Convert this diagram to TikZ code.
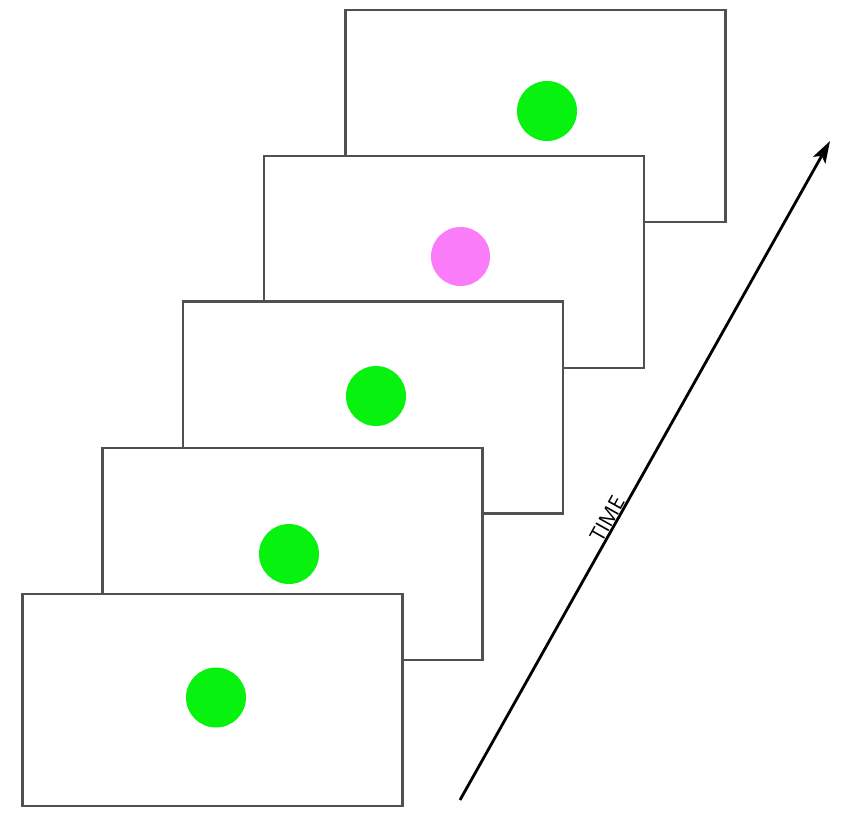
\documentclass[tikz,border=0pt]{standalone}
\usepackage{fontspec}
\setsansfont{Open Sans}
\usepackage{tikz}
\usetikzlibrary{arrows.meta}
\definecolor{dotgreen}{RGB}{8,242,16}
\definecolor{dotpink}{RGB}{250,124,248}
\definecolor{framegray}{RGB}{80,80,80}
\tikzstyle{frame}=[
	rectangle,
	minimum width=380pt,
	minimum height=212pt,
	draw=framegray,
	line width=2.2pt,
	fill=white,
	inner sep=0pt
]
\tikzstyle{dot}=[
	circle,
	minimum size=60pt,
	inner sep=0pt,
	fill=dotgreen
]

\begin{document}
\begin{tikzpicture}[x=1pt,y=-1pt]
\useasboundingbox (0,0) rectangle (850,825);

% Frame 5 (last)
\node[frame] (f5) at (535.5,116){};
\node[dot] (d5) at (547,111){};

% Frame 4 (odd one)
\node[frame] (f4) at (454,262){};
\node[dot,fill=dotpink,minimum size=59pt] (d4) at (460.5,256.5){};

% Frame 3
\node[frame] (f3) at (373,407.5){};
\node[dot] (d3) at (376,396){};

% Frame 2
\node[frame] (f2) at (292.5,554){};
\node[dot] (d2) at (289,554){};

% Frame 1 (first)
\node[frame] (f1) at (212.5,700){};
\node[dot] (d1) at (216,697.5){};

% Time axis
\coordinate (t0) at (460,800);
\coordinate (t1) at (830,141);
\draw[-{Stealth[length=22pt,width=14pt,inset=5pt]},line width=2.8pt] (t0) -- node[pos=0.42,above,sloped,inner sep=0.5pt,font=\sffamily\fontsize{21}{21}\selectfont]{TIME} (t1);

\end{tikzpicture}
\end{document}
